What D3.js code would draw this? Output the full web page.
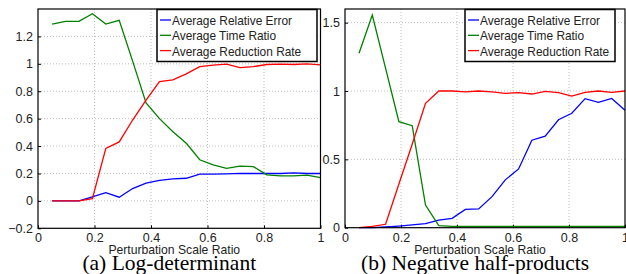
<!DOCTYPE html>
<html>
<head>
<meta charset="utf-8">
<script src="https://cdn.jsdelivr.net/npm/d3@7"></script>
<style>
  body { margin: 0; background: #fff; }
  svg { display: block; }
</style>
</head>
<body>
<div id="chart"></div>
<script>
// x positions shared by both panels
const xVals = d3.range(21).map((i) => +(0.05 + i * 0.0475).toFixed(4));

// (a) Log-determinant
const aError = [0, 0, 0, 0.03, 0.06, 0.027, 0.09, 0.13, 0.15, 0.16, 0.165, 0.195, 0.195, 0.197, 0.2, 0.2, 0.2, 0.2, 0.205, 0.2, 0.2];
const aTime = [1.29, 1.31, 1.31, 1.366, 1.29, 1.317, 1.02, 0.715, 0.6, 0.505, 0.42, 0.3, 0.262, 0.237, 0.254, 0.25, 0.19, 0.183, 0.183, 0.188, 0.17];
const aReduction = [0, 0, 0, 0.017, 0.383, 0.43, 0.59, 0.735, 0.87, 0.883, 0.927, 0.98, 0.99, 0.998, 0.973, 0.98, 0.995, 0.998, 0.995, 1.0, 0.993];

// (b) Negative half-products
const bError = [0, 0, 0.005, 0.012, 0.02, 0.03, 0.056, 0.068, 0.134, 0.137, 0.227, 0.35, 0.43, 0.64, 0.67, 0.79, 0.837, 0.944, 0.917, 0.946, 0.86];
const bTime = [1.276, 1.556, 1.166, 0.776, 0.746, 0.166, 0.015, 0.01, 0.01, 0.01, 0.01, 0.01, 0.01, 0.01, 0.01, 0.01, 0.01, 0.01, 0.01, 0.01, 0.01];
const bReduction = [0, 0.01, 0.025, 0.32, 0.61, 0.91, 1.0, 1.0, 0.993, 1.0, 0.993, 0.983, 0.988, 0.978, 0.998, 0.988, 0.963, 0.99, 1.0, 0.99, 1.0];

const seriesNames = ["Average Relative Error", "Average Time Ratio", "Average Reduction Rate"];
const seriesColors = ["#0000ff", "#008000", "#ff0000"];

const xTicks = [0, 0.2, 0.4, 0.6, 0.8, 1];
const aYTicks = [-0.2, 0, 0.2, 0.4, 0.6, 0.8, 1, 1.2];
const bYTicks = [0, 0.5, 1, 1.5];

const W = 626, H = 274;
const svg = d3.select("#chart").append("svg").attr("width", W).attr("height", H);

const SANS = "'Liberation Sans', Arial, sans-serif";

// the original uses a narrow sans; squeeze Liberation Sans a bit
const condense = (sel, ratio) => {
  sel.each(function () {
    const w = this.getComputedTextLength();
    d3.select(this).attr("textLength", w * ratio).attr("lengthAdjust", "spacingAndGlyphs");
  });
};

const drawPanel = ({ left, right, top, bottom, yDomain, yTicks, series, caption, legendX, legendW }) => {
  const x = d3.scaleLinear().domain([0, 1]).range([left, right]);
  const y = d3.scaleLinear().domain(yDomain).range([bottom, top]);
  const g = svg.append("g");

  // grid
  g.selectAll(".gx").data(xTicks.slice(1, -1)).enter().append("line")
    .attr("x1", (d) => x(d)).attr("x2", (d) => x(d))
    .attr("y1", top).attr("y2", bottom)
    .attr("stroke", "#bdbdbd").attr("stroke-width", 1).attr("stroke-dasharray", "1,2");
  g.selectAll(".gy").data(yTicks.filter((d) => d !== yDomain[0])).enter().append("line")
    .attr("x1", left).attr("x2", right)
    .attr("y1", (d) => y(d)).attr("y2", (d) => y(d))
    .attr("stroke", "#bdbdbd").attr("stroke-width", 1).attr("stroke-dasharray", "1,2");

  // axes with inward ticks
  const xAxis = g.append("g").attr("transform", `translate(0,${bottom})`)
    .call(d3.axisBottom(x).tickValues(xTicks).tickSizeInner(-3).tickSizeOuter(0).tickPadding(5)
      .tickFormat((d) => d3.format("~g")(d)));
  const yAxis = g.append("g").attr("transform", `translate(${left},0)`)
    .call(d3.axisLeft(y).tickValues(yTicks).tickSizeInner(-3).tickSizeOuter(0).tickPadding(5)
      .tickFormat((d) => (d < 0 ? "\u2212" + d3.format("~g")(-d) : d3.format("~g")(d))));
  [xAxis, yAxis].forEach((a) => {
    a.select(".domain").remove();
    a.selectAll("line").attr("stroke", "#000");
    a.selectAll("text").attr("font-family", SANS).attr("font-size", 12.5).attr("fill", "#222");
  });

  // lines
  const line = d3.line().x((d, i) => x(xVals[i])).y((d) => y(d));
  series.forEach((vals, k) => {
    g.append("path").datum(vals)
      .attr("fill", "none").attr("stroke", seriesColors[k]).attr("stroke-width", 1.3)
      .attr("d", line);
  });

  // box
  g.append("rect").attr("x", left).attr("y", top)
    .attr("width", right - left).attr("height", bottom - top)
    .attr("fill", "none").attr("stroke", "#000").attr("stroke-width", 1.2);

  // legend
  const lg = g.append("g");
  lg.append("rect").attr("x", legendX).attr("y", top + 0.5)
    .attr("width", legendW).attr("height", 52)
    .attr("fill", "#fff").attr("stroke", "#000").attr("stroke-width", 1.5);
  seriesNames.forEach((name, k) => {
    const ly = top + 11 + k * 15.3;
    lg.append("line").attr("x1", legendX + 3).attr("x2", legendX + 14)
      .attr("y1", ly).attr("y2", ly)
      .attr("stroke", seriesColors[k]).attr("stroke-width", 1.3);
    lg.append("text").attr("x", legendX + 15).attr("y", ly + 5)
      .attr("font-family", SANS).attr("font-size", 13.5).attr("fill", "#222")
      .text(name)
      .call(condense, 0.88);
  });

  // axis title and caption
  g.append("text").attr("x", (left + right) / 2 - 5).attr("y", 254)
    .attr("text-anchor", "middle").attr("font-family", SANS).attr("font-size", 13.5).attr("fill", "#222")
    .text("Perturbation Scale Ratio")
    .call(condense, 0.9);
  g.append("text").attr("x", (left + right) / 2 - 10).attr("y", 270)
    .attr("text-anchor", "middle").attr("font-family", "'Liberation Serif', 'Times New Roman', serif")
    .attr("font-size", 21.5).attr("fill", "#000")
    .text(caption);
};

drawPanel({
  left: 38, right: 320.5, top: 9, bottom: 228.3,
  yDomain: [-0.2, 1.4], yTicks: aYTicks,
  series: [aError, aTime, aReduction],
  caption: "(a) Log-determinant",
  legendX: 157, legendW: 160
});

drawPanel({
  left: 345, right: 625, top: 9, bottom: 227.7,
  yDomain: [0, 1.6], yTicks: bYTicks,
  series: [bError, bTime, bReduction],
  caption: "(b) Negative half-products",
  legendX: 465, legendW: 150
});
</script>
</body>
</html>
